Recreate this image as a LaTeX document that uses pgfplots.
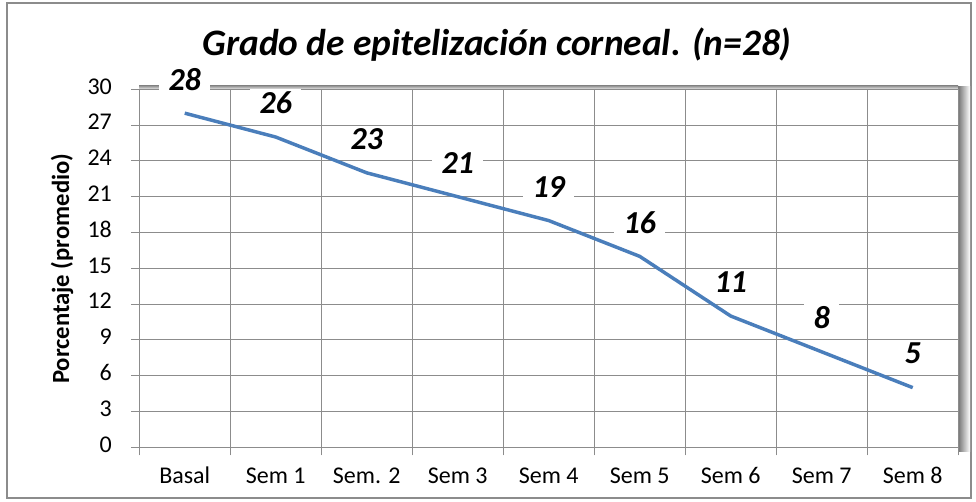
\documentclass[border=0pt]{standalone}
\usepackage{pgfplots}
\pgfplotsset{compat=1.18}
\usepackage{fontspec}
\setmainfont{Carlito}
\definecolor{lineblue}{RGB}{74,126,187}
\definecolor{gridgray}{RGB}{140,140,140}
\begin{document}
\begin{tikzpicture}[x=0.75pt,y=0.75pt]
\useasboundingbox (0,0) rectangle (976,501);
\draw[color=gridgray, line width=1.5pt] (7,3) rectangle (971,498);
% shadow of the plot area
\shade[left color=black!55, right color=white] (958,50) rectangle (970,414);
\shade[top color=black!40, bottom color=white] (139,411) rectangle (958,415);
\node[font=\fontsize{28}{28}\selectfont\bfseries\itshape] at (497,456) {Grado de epitelización corneal. (n=28)};
\node[font=\fontsize{18.5}{18.5}\selectfont\bfseries, rotate=90] at (62,232) {Porcentaje (promedio)};
\begin{axis}[
  at={(153,45)}, anchor=south west,
  width=614.25pt, height=268.5pt, scale only axis,
  xmin=-0.5, xmax=8.5, ymin=0, ymax=30,
  ytick={0,3,...,30},
  xtick={0,...,8},
  xticklabels={Basal,Sem 1,Sem. 2,Sem 3,Sem 4,Sem 5,Sem 6,Sem 7,Sem 8},
  minor xtick={-0.5,0.5,...,8.5},
  major x tick style={draw=none},
  xminorgrids, ymajorgrids,
  grid style={color=gridgray, line width=0.8pt},
  axis lines=left, axis line style={-, color=gridgray, line width=1pt},
  tick align=outside,
  tick style={color=gridgray, line width=0.8pt},
  major tick length=6pt, minor tick length=6pt,
  /pgf/number format/assume math mode=true,
  typeset ticklabels with strut,
  yticklabel style={font=\fontsize{18}{18}\selectfont, xshift=-11pt},
  xticklabel style={font=\fontsize{18}{18}\selectfont, yshift=-5pt},
  clip=false,
]
\addplot[color=lineblue, line width=2.6pt, line join=round, mark=none,
  nodes near coords,
  every node near coord/.style={font=\fontsize{24}{24}\selectfont\bfseries\itshape, text=black,
    fill=white, inner xsep=7pt, inner ysep=2pt, anchor=center, yshift=25.5pt}]
  coordinates {(0,28) (1,26) (2,23) (3,21) (4,19) (5,16) (6,11) (7,8) (8,5)};
\end{axis}
\end{tikzpicture}
\end{document}
